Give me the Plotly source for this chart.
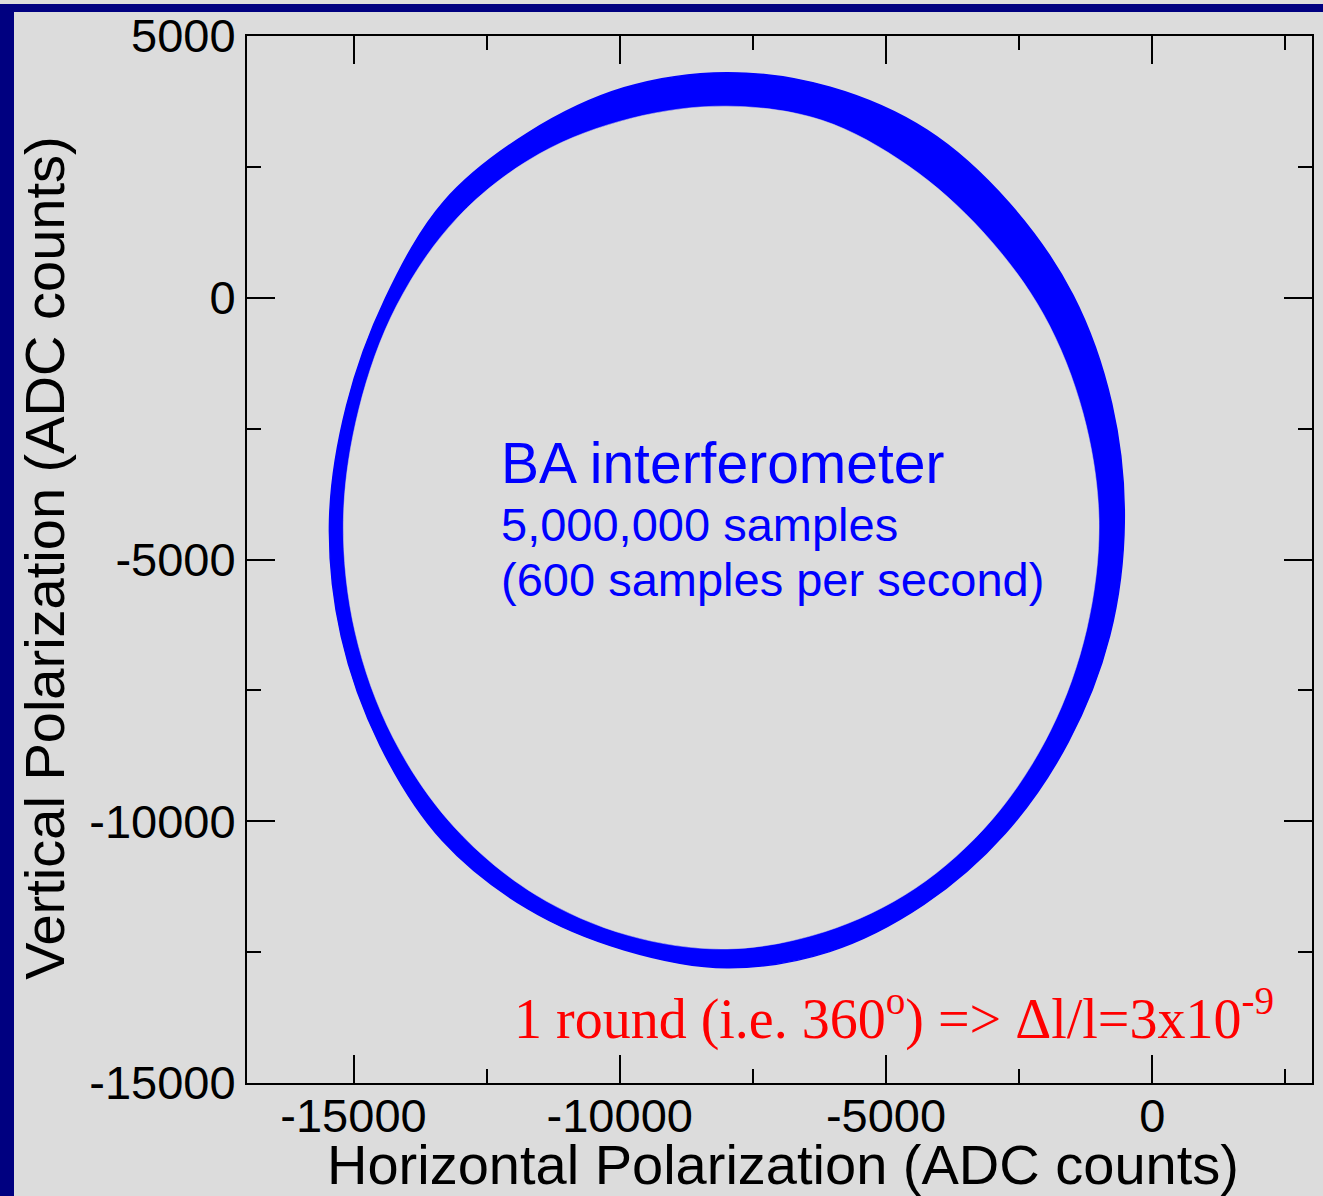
import plotly.graph_objects as go

# Polarization trace: outer and inner edges of the sampled band (ADC counts),
# read every 15 degrees around the loop
outer_h = [-525, -800, -1580, -2760, -4290, -6060, -7990, -9910, -11730, -13330,
           -14500, -15230, -15450, -15130, -14400, -13300, -11720, -9920, -7990, -6050,
           -4230, -2690, -1490, -760]
outer_v = [-4250, -6460, -8490, -10230, -11590, -12490, -12800, -12460, -11670, -10370,
           -8550, -6470, -4250, -2060, -10, 1840, 3150, 4010, 4300, 4020,
           3200, 1810, 50, -2030]

inner_h = [-1000, -1230, -1910, -3000, -4450, -6150, -7990, -9840, -11590, -13110,
           -14260, -14970, -15190, -14900, -14190, -13040, -11510, -9780, -7990, -6200,
           -4580, -3180, -2040, -1300]
inner_v = [-4250, -6330, -8270, -9960, -11280, -12110, -12440, -12180, -11400, -10110,
           -8400, -6390, -4250, -2130, -150, 1540, 2750, 3430, 3660, 3390,
           2520, 1260, -320, -2200]

x_ticks = [-15000, -10000, -5000, 0]
x_tick_text = ["-15000", "-10000", "-5000", "0"]
x_minor = [-12500, -7500, -2500, 2500]
y_ticks = [-15000, -10000, -5000, 0, 5000]
y_tick_text = ["-15000", "-10000", "-5000", "0", "5000"]
y_minor = [-12500, -7500, -2500, 2500]

BG = "#dcdcdc"
NAVY = "#000080"
BLUE = "#0000ff"
SANS = "Liberation Sans, Arial, Helvetica, sans-serif"
SERIF = "Liberation Serif, Times New Roman, serif"

fig = go.Figure()
# Band of samples: filled outer contour, then the empty interior painted over it
fig.add_trace(go.Scatter(
    x=outer_h + outer_h[:1], y=outer_v + outer_v[:1], mode="lines", fill="toself",
    fillcolor=BLUE, line=dict(color=BLUE, width=1.5, shape="spline", smoothing=1),
    hoverinfo="skip", showlegend=False,
))
fig.add_trace(go.Scatter(
    x=inner_h + inner_h[:1], y=inner_v + inner_v[:1], mode="lines", fill="toself",
    fillcolor=BG, line=dict(color=BG, width=0.5, shape="spline", smoothing=1),
    hoverinfo="skip", showlegend=False,
))

axis_common = dict(
    ticks="inside", ticklen=28, tickwidth=2, tickcolor="black",
    showline=True, linewidth=2, linecolor="black", mirror="ticks",
    showgrid=False, zeroline=False,
    tickfont=dict(family=SANS, size=47, color="black"),
)

fig.update_layout(
    width=1323, height=1196, autosize=False,
    margin=dict(l=247, r=9, t=29, b=113, pad=0),
    paper_bgcolor=BG, plot_bgcolor=BG,
    showlegend=False,
    xaxis=dict(range=[-17000, 3000], tickmode="array", tickvals=x_ticks, ticktext=x_tick_text,
               ticklabelstandoff=-9,
               minor=dict(tickmode="array", tickvals=x_minor, ticks="inside", ticklen=14,
                          tickwidth=2, tickcolor="black", showgrid=False),
               **axis_common),
    yaxis=dict(range=[-15000, 5000], tickmode="array", tickvals=y_ticks, ticktext=y_tick_text,
               minor=dict(tickmode="array", tickvals=y_minor, ticks="inside", ticklen=14,
                          tickwidth=2, tickcolor="black", showgrid=False),
               **axis_common),
)

# Navy frame strips along the left and top edges of the page (pixel offsets from the plot corner)
fig.add_shape(type="rect", xref="paper", yref="paper", xsizemode="pixel", ysizemode="pixel",
              xanchor=0, yanchor=1, x0=-250, x1=-233, y0=-1180, y1=32,
              fillcolor=NAVY, line=dict(width=0), layer="above")
fig.add_shape(type="rect", xref="paper", yref="paper", xsizemode="pixel", ysizemode="pixel",
              xanchor=0, yanchor=1, x0=-250, x1=1100, y0=24, y1=32,
              fillcolor=NAVY, line=dict(width=0), layer="above")

# Axis titles
fig.add_annotation(text="Horizontal Polarization (ADC counts)", xref="paper", yref="paper",
                   x=0.5033, y=-0.0775, xanchor="center", yanchor="middle", showarrow=False,
                   font=dict(family=SANS, size=56, color="black"))
fig.add_annotation(text="Vertical Polarization (ADC counts)", xref="paper", yref="paper",
                   x=-0.1903, y=0.501, xanchor="center", yanchor="middle", textangle=-90,
                   showarrow=False, font=dict(family=SANS, size=56, color="black"))

# Labels inside the plot
fig.add_annotation(text="BA interferometer", x=-12263, y=-3160, xanchor="left", yanchor="middle",
                   showarrow=False, font=dict(family=SANS, size=57, color=BLUE))
fig.add_annotation(text="5,000,000 samples", x=-12263, y=-4335, xanchor="left", yanchor="middle",
                   showarrow=False, font=dict(family=SANS, size=47, color=BLUE))
fig.add_annotation(text="(600 samples per second)", x=-12263, y=-5380, xanchor="left", yanchor="middle",
                   showarrow=False, font=dict(family=SANS, size=47, color=BLUE))
fig.add_annotation(text="1 round (i.e. 360<sup>o</sup>) => Δl/l=3x10<sup>-9</sup>",
                   x=-12020, y=-14430, xanchor="left", yanchor="bottom",
                   showarrow=False, font=dict(family=SERIF, size=56, color="#ff0000"))

fig.write_html("out.html")
